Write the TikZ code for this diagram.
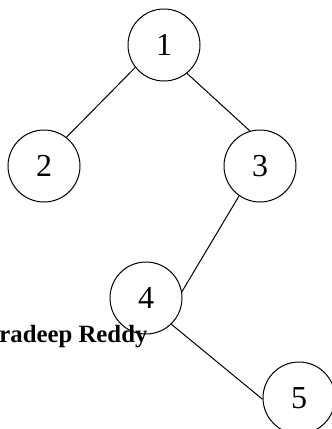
\documentclass[tikz,border=0pt]{standalone}
\usepackage{fontspec}
\setmainfont{Liberation Serif}
\begin{document}
\begin{tikzpicture}[x=1pt,y=-1pt,
  tnode/.style={draw,circle,line width=1pt,minimum size=72pt,inner sep=0pt,font=\fontsize{32}{36}\selectfont},
  edge/.style={line width=1pt}]
\clip (0,0) rectangle (332,429);
\useasboundingbox (0,0) rectangle (332,429);
\node[tnode] (n1) at (164,45) {1};
\node[tnode] (n2) at (44,166) {2};
\node[tnode] (n3) at (260,166) {3};
\node[tnode] (n4) at (146,298) {4};
\node[tnode] (n5) at (299,398) {5};
\draw[edge] (n1.218) -- (n2.52);
\draw[edge] (n1.309) -- (n3.106);
\draw[edge] (n3.235) -- (n4.10);
\draw[edge] (n4.314) -- (n5.182);
\node[anchor=base west,inner sep=0pt,font=\bfseries\fontsize{24.8}{28}\selectfont] (lbl) at (-16,342) {Pradeep Reddy};
\end{tikzpicture}
\end{document}
